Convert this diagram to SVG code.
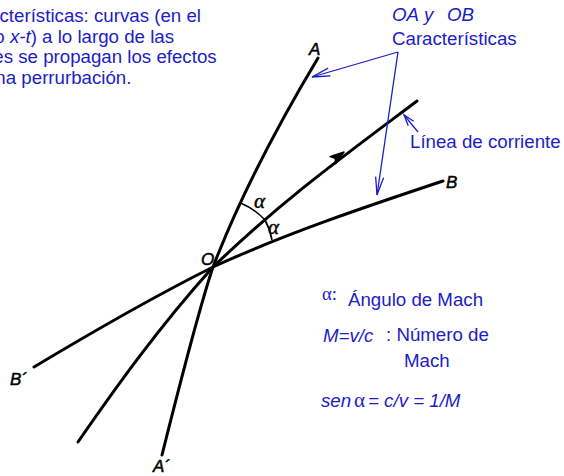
<svg xmlns="http://www.w3.org/2000/svg" width="564" height="476" viewBox="0 0 564 476">
<style>
.blue{fill:#1c1cc8;font-family:"Liberation Sans",Arial,sans-serif;font-size:18.7px}
.it{font-style:italic}
.ser{font-family:"Liberation Serif","Times New Roman",serif}
.lbl{fill:#000;font-family:"Liberation Sans",Arial,sans-serif;font-style:italic;font-size:17px;stroke:#000;stroke-width:0.5}
.curve{fill:none;stroke:#000;stroke-width:3;stroke-linecap:round}
.arc{fill:none;stroke:#000;stroke-width:1.6}
.bl{fill:none;stroke:#1c1cc8;stroke-width:1.3}
.alpha{fill:#000;font-family:"Liberation Serif","Times New Roman",serif;font-style:italic;font-size:21px;stroke:#000;stroke-width:0.4}
</style>
<defs>
<marker id="vhead" markerUnits="userSpaceOnUse" markerWidth="24" markerHeight="12" refX="0" refY="0" viewBox="-20 -6 22 12" orient="auto" overflow="visible">
<path d="M-18,-4 L0,0 L-18,4" fill="none" stroke="#1c1cc8" stroke-width="1.3"/>
</marker>
<marker id="vsmall" markerUnits="userSpaceOnUse" markerWidth="14" markerHeight="10" refX="0" refY="0" viewBox="-12 -5 14 10" orient="auto" overflow="visible">
<path d="M-11,-3.5 L0,0 L-11,3.5" fill="none" stroke="#1c1cc8" stroke-width="1.3"/>
</marker>
</defs>
<rect width="564" height="476" fill="#fff"/>

<g id="connectors">
<path id="char-AA" class="curve" d="M162,455 C173,411 198,312 213,267 C240,197 276,128 318,58"/>
<path id="char-BB" class="curve" d="M34,367 C94,331 153,297 213,267 C288,232.5 368,206 443,181"/>
<path id="streamline" class="curve" stroke-width="2.6" d="M78,442 C116,387 159,327 213,267 C283,200 337,161 417,101"/>
<polygon id="streamline-arrow" points="344,152 335.7,163.6 335.2,158.2 330.1,156.6" fill="#000" stroke="#000" stroke-width="1.5" stroke-linejoin="round"/>
<path id="arc1" class="arc" d="M240.5,203 A70,70 0 0 1 265,220"/>
<path id="arc2" class="arc" d="M265,220 A68,68 0 0 1 272,240"/>
</g>

<g id="node-A"><text class="lbl" x="309" y="55">A</text></g>
<g id="node-B"><text class="lbl" x="446" y="188" font-size="19">B</text></g>
<g id="node-O"><text class="lbl" x="201" y="265">O</text></g>
<g id="node-A-prime"><text class="lbl" x="153" y="472">A´</text></g>
<g id="node-B-prime"><text class="lbl" x="10" y="385">B´</text></g>
<g id="alpha-labels">
<text class="alpha" x="254" y="208">α</text>
<text class="alpha" x="268" y="234">α</text>
</g>

<g id="note-characteristics">
<text class="blue" x="-41" y="22">Características: curvas (en el</text>
<text class="blue" x="-41" y="42.7">plano <tspan class="it">x-t</tspan>) a lo largo de las</text>
<text class="blue" x="-41" y="63.3">cuales se propagan los efectos</text>
<text class="blue" x="-41" y="84">de una perrurbación.</text>
</g>

<g id="note-OA-OB">
<text class="blue it" y="21"><tspan x="392">OA</tspan><tspan x="424">y</tspan><tspan x="447">OB</tspan></text>
<text class="blue" x="392" y="45">Características</text>
<path class="bl" d="M398,52 L312,77" marker-end="url(#vhead)"/>
<path class="bl" d="M398,52 L377,195" marker-end="url(#vhead)"/>
</g>

<g id="note-streamline">
<text class="blue" x="410" y="148">Línea de corriente</text>
<path class="bl" d="M418,132 L404,115" marker-end="url(#vsmall)"/>
</g>

<g id="legend">
<text class="blue ser" x="322" y="300" font-size="19">α:</text>
<text class="blue" x="348" y="306">Ángulo de Mach</text>
<text class="blue it" x="323" y="342">M=v/c</text>
<text class="blue" x="386" y="341">: Número de</text>
<text class="blue" x="404" y="367">Mach</text>
<text class="blue" y="407"><tspan class="it" x="321">sen</tspan><tspan class="ser" x="354" font-size="21">α</tspan><tspan class="it" x="368">= c/v = 1/M</tspan></text>
</g>
</svg>
